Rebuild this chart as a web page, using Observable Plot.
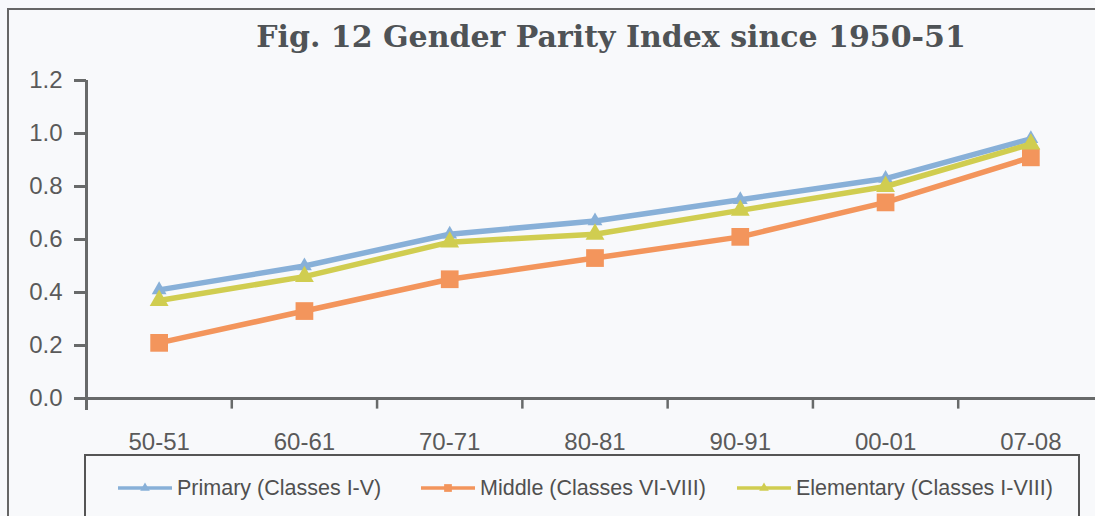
<!DOCTYPE html>
<html>
<head>
<meta charset="utf-8">
<script src="https://cdn.jsdelivr.net/npm/d3@7"></script>
<script src="https://cdn.jsdelivr.net/npm/@observablehq/plot@0.6"></script>
<style>
  html, body { margin: 0; padding: 0; background: #f8f9fb; }
  #wrap { position: relative; width: 1095px; height: 516px; overflow: hidden; background: #f8f9fb; }
  #frame { position: absolute; left: 7px; top: 8px; width: 1200px; height: 700px; border-left: 2px solid #666; border-top: 2px solid #666; }
  #title { position: absolute; left: 0; width: 1222px; top: 19px; text-align: center; font-family: "DejaVu Serif", serif; font-weight: bold; font-size: 30px; color: #4f5356; white-space: nowrap; }
  #chart { position: absolute; left: 0; top: 0; width: 1110px; }
  #chart svg { max-width: none !important; }
  #legend { position: absolute; left: 84px; top: 454px; width: 996px; height: 80px; border: 2.5px solid #555; box-sizing: border-box; }
  .item { position: absolute; top: 474px; height: 28px; display: flex; align-items: center; font-family: "Liberation Sans", Arial, sans-serif; font-size: 21.5px; color: #505050; white-space: nowrap; }
  .item svg { margin-right: 5px; }
</style>
</head>
<body>
<div id="wrap">
  <div id="frame"></div>
  <div id="chart"></div>
  <div id="title">Fig. 12 Gender Parity Index since 1950-51</div>
  <div id="legend"></div>
</div>
<script>
const categories = ["50-51", "60-61", "70-71", "80-81", "90-91", "00-01", "07-08"];
const primary    = [0.41, 0.50, 0.62, 0.67, 0.75, 0.83, 0.98];
const middle     = [0.21, 0.33, 0.45, 0.53, 0.61, 0.74, 0.91];
const elementary = [0.37, 0.46, 0.59, 0.62, 0.71, 0.80, 0.96];
const yTicks = [0, 0.2, 0.4, 0.6, 0.8, 1.0, 1.2];
const seriesNames = ["Primary (Classes I-V)", "Middle (Classes VI-VIII)", "Elementary (Classes I-VIII)"];
const seriesColors = ["#88b0d8", "#f3955c", "#d0cd50"];
const seriesSymbols = ["triangle", "square", "triangle"];

const rows = (vals, s) => vals.map((v, i) => ({i, v, s}));
const dPrimary = rows(primary, 0);
const dMiddle = rows(middle, 1);
const dElem = rows(elementary, 2);
const catIdx = categories.map((c, i) => ({i, c}));
const bounds = categories.slice(1).map((c, i) => i + 0.5);

const axisColor = "#686a6a";
const chart = Plot.plot({
  width: 1110, height: 455,
  marginLeft: 86, marginRight: 7, marginTop: 80, marginBottom: 57,
  style: {background: "transparent", fontFamily: "Liberation Sans, Arial, sans-serif", overflow: "visible"},
  x: {type: "linear", domain: [-0.5, 6.5], axis: null},
  y: {domain: [0, 1.2], axis: null},
  marks: [
    Plot.axisY({ticks: yTicks, tickFormat: d3.format(".1f"), label: null, tickSize: 12, tickPadding: 12, fontSize: 24, stroke: axisColor, strokeWidth: 3, color: "#5a5a5a"}),
    Plot.ruleX([-0.5], {y1: -0.045, y2: 1.2, stroke: axisColor, strokeWidth: 3}),
    Plot.ruleY([0], {x1: -0.53, x2: 6.6, stroke: axisColor, strokeWidth: 3}),
    Plot.ruleX(bounds, {x: d => d, y1: 0, y2: -0.04, stroke: axisColor, strokeWidth: 2.5}),
    Plot.text(catIdx, {x: "i", y: () => 0, text: "c", dy: 44, fontSize: 24, fill: "#5a5a5a", lineAnchor: "middle"}),
    Plot.line(dPrimary, {x: "i", y: "v", stroke: seriesColors[0], strokeWidth: 5.5}),
    Plot.dot(dPrimary, {x: "i", y: "v", symbol: seriesSymbols[0], r: 5.5, fill: seriesColors[0]}),
    Plot.line(dMiddle, {x: "i", y: "v", stroke: seriesColors[1], strokeWidth: 5.5}),
    Plot.dot(dMiddle, {x: "i", y: "v", symbol: seriesSymbols[1], r: 10, fill: seriesColors[1]}),
    Plot.line(dElem, {x: "i", y: "v", stroke: seriesColors[2], strokeWidth: 5.5}),
    Plot.dot(dElem, {x: "i", y: "v", symbol: seriesSymbols[2], r: 7, fill: seriesColors[2]})
  ]
});
document.getElementById("chart").appendChild(chart);

// legend
const lefts = [118, 421, 737];
const wrap = document.getElementById("wrap");
seriesNames.forEach((name, k) => {
  const div = document.createElement("div");
  div.className = "item";
  div.style.left = lefts[k] + "px";
  const ns = "http://www.w3.org/2000/svg";
  const svg = document.createElementNS(ns, "svg");
  svg.setAttribute("width", 54); svg.setAttribute("height", 20);
  const ln = document.createElementNS(ns, "line");
  ln.setAttribute("x1", 0); ln.setAttribute("x2", 54); ln.setAttribute("y1", 10); ln.setAttribute("y2", 10);
  ln.setAttribute("stroke", seriesColors[k]); ln.setAttribute("stroke-width", 3.5);
  svg.appendChild(ln);
  const p = document.createElementNS(ns, "path");
  const sym = seriesSymbols[k] === "square" ? d3.symbolSquare : d3.symbolTriangle;
  p.setAttribute("d", d3.symbol(sym, seriesSymbols[k] === "square" ? 60 : 40)());
  p.setAttribute("transform", "translate(27,10)");
  p.setAttribute("fill", seriesColors[k]);
  svg.appendChild(p);
  div.appendChild(svg);
  const span = document.createElement("span");
  span.textContent = name;
  div.appendChild(span);
  wrap.appendChild(div);
});
</script>
</body>
</html>
